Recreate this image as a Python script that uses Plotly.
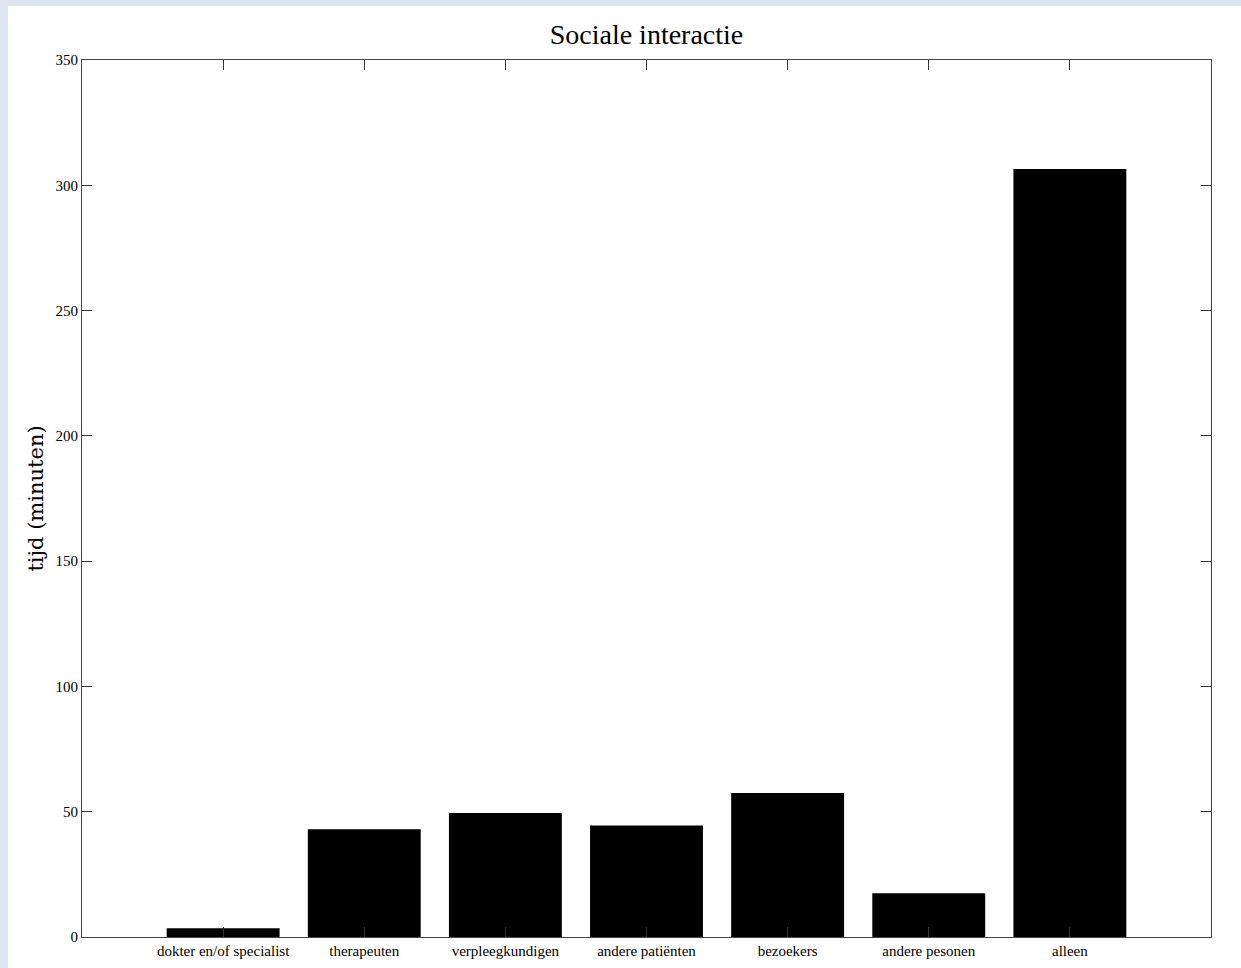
import plotly.graph_objects as go

categories = ["dokter en/of specialist", "therapeuten", "verpleegkundigen",
              "andere patiënten", "bezoekers", "andere pesonen", "alleen"]
values = [3.5, 43, 49.5, 44.5, 57.5, 17.5, 306.5]
positions = list(range(1, len(categories) + 1))
y_ticks = [0, 50, 100, 150, 200, 250, 300, 350]

W, H = 1241, 968
L, R, T, B = 82, 30, 60, 31
pw, ph = W - L - R, H - T - B

fig = go.Figure(go.Bar(x=positions, y=values, width=0.8,
                       marker=dict(color="black", line=dict(width=0))))

font = "Liberation Serif, Times New Roman, serif"
fig.update_layout(
    width=W, height=H,
    margin=dict(l=L, r=R, t=T, b=B, autoexpand=False),
    paper_bgcolor="#dce5f1",
    plot_bgcolor="white",
    showlegend=False,
    font=dict(family=font, color="black", size=15),
    title=dict(text="Sociale interactie", x=0.5, xref="paper", xanchor="center",
               y=1 - 34 / H, yanchor="middle", font=dict(size=28, family=font)),
    bargap=0.2,
)
fig.add_shape(type="rect", xref="paper", yref="paper",
              x0=(8 - L) / pw, x1=(W - L + 5) / pw,
              y0=-(B + 5) / ph, y1=1 + (T - 6) / ph,
              fillcolor="white", line=dict(width=0), layer="below")
fig.update_xaxes(range=[0, 8], tickmode="array", tickvals=positions, ticktext=categories,
                 ticks="inside", ticklen=10, tickcolor="#333", showline=True, linecolor="#444",
                 linewidth=1, mirror="ticks", showgrid=False, zeroline=False, automargin=False,
                 tickfont=dict(size=15, family=font))
fig.update_yaxes(range=[0, 350], tickmode="array", tickvals=y_ticks,
                 ticks="inside", ticklen=10, tickcolor="#333", showline=True, linecolor="#444",
                 linewidth=1, mirror="ticks", showgrid=False, zeroline=False, automargin=False,
                 tickfont=dict(size=15, family=font),
                 title=dict(text="tijd (minuten)", font=dict(size=21, family="DejaVu Serif"),
                            standoff=6))
fig.write_html("out.html", config={"displayModeBar": False},
               post_script="document.body.style.margin='0';document.body.style.overflow='hidden';")
